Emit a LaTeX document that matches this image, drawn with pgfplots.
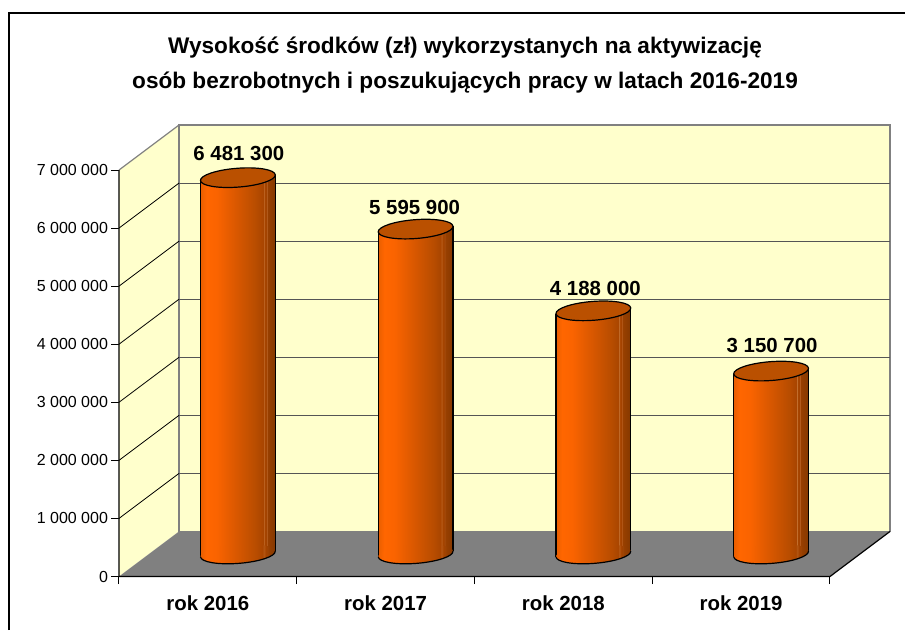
\documentclass[border=0pt]{standalone}
\usepackage{fontspec}
\setmainfont{Liberation Sans}
\usepackage{pgfplots}
\pgfplotsset{compat=1.18}

\definecolor{wall}{HTML}{FFFFCC}
\definecolor{edge}{HTML}{808080}
\definecolor{gridback}{HTML}{555555}
\definecolor{captop}{HTML}{BA5000}

% banded gradient of the cylinders, 25bp to 75bp is the width of the bar
\pgfdeclarehorizontalshading{cyl}{100bp}{
  rgb(0bp)=(.91,.37,0);
  rgb(25bp)=(.91,.37,0);
  rgb(29bp)=(1,.40,0);
  rgb(36bp)=(.98,.39,0);
  rgb(50bp)=(.84,.34,0);
  rgb(62bp)=(.72,.30,0);
  rgb(66.9bp)=(.66,.27,0);
  rgb(67.2bp)=(.78,.46,.21);
  rgb(67.8bp)=(.66,.27,0);
  rgb(69bp)=(.63,.26,0);
  rgb(69.3bp)=(.76,.42,.18);
  rgb(69.7bp)=(.60,.25,0);
  rgb(75bp)=(.52,.22,0);
  rgb(100bp)=(.52,.22,0)}

\pgfdeclareplotmark{cyltop}{%
  \pgfpathellipse{\pgfpointorigin}{\pgfqpoint{37.4pt}{2.85pt}}{\pgfqpoint{-0.7pt}{9.4pt}}%
  \pgfusepathqfillstroke}
\pgfdeclareplotmark{cylbase}{%
  \begin{pgfscope}%
    \pgfpathellipse{\pgfpointorigin}{\pgfqpoint{37.4pt}{2.85pt}}{\pgfqpoint{-0.7pt}{9.4pt}}%
    \pgfshadepath{cyl}{0}%
    \pgfusepath{discard}%
  \end{pgfscope}%
  % only the front half of the rim shows
  \pgftransformrotate{4.35}%
  \pgfpathmoveto{\pgfqpoint{-37.5pt}{0pt}}%
  \pgfpatharc{180}{360}{37.5pt and 9.4pt}%
  \pgfusepathqstroke}

% #1 category position, #2 value, #3 and #4 shift of the value label
\newcommand{\cylinder}[4]{
  \addplot[only marks, mark=cylbase, line width=1.2pt, xshift=30pt, yshift=22.5pt,
    forget plot] coordinates {(#1,0)};
  \addplot[ybar, bar width=74.8pt, bar shift=0pt, draw=none, shade, shading=cyl,
    yshift={22.5pt-0.076*(88.875+177.75*#1)*1pt}, xshift=30pt, yslant=0.076,
    forget plot] coordinates {(#1,#2)};
  \addplot[ycomb, no markers, line width=1.2pt, black, xshift=-7.4pt, yshift=19.65pt,
    forget plot] coordinates {(#1,#2)};
  \addplot[ycomb, no markers, line width=1.2pt, black, xshift=67.4pt, yshift=25.35pt,
    forget plot] coordinates {(#1,#2)};
  \addplot[only marks, mark=cyltop, line width=1.2pt, draw=black, fill=captop,
    xshift=30pt, yshift=22.5pt, forget plot,
    nodes near coords, nodes near coords align={center},
    every node near coord/.append style={black, yshift=#4, xshift=#3,
      font=\fontsize{20.4}{24}\selectfont\bfseries,
      /pgf/number format/.cd, fixed, precision=0, 1000 sep={\ }, assume math mode=true}]
    coordinates {(#1,#2)};
}

\begin{document}
\begin{tikzpicture}
\useasboundingbox (-119pt,-53.5pt) rectangle (786pt,576.5pt);
\begin{axis}[
    scale only axis,
    width=771pt,
    height=451.5pt,
    xmin=-0.5, xmax=3.8376,
    ymin=0, ymax=7776000,
    clip=false,
    unbounded coords=jump,
    axis lines=left,
    axis line style={draw=none},
    tick align=outside,
    major tick length=7.5pt,
    tick style={black, line width=1pt},
    xtick={-0.5,0.5,1.5,2.5,3.5},
    x tick label as interval,
    xticklabels={rok 2016,rok 2017,rok 2018,rok 2019},
    xticklabel style={font=\fontsize{20.4}{24}\selectfont\bfseries, yshift=-8pt},
    ytick={0,1000000,2000000,3000000,4000000,5000000,6000000,7000000},
    scaled y ticks=false,
    yticklabel style={font=\fontsize{16}{19}\selectfont,
      /pgf/number format/.cd, fixed, precision=0, 1000 sep={\ }, assume math mode=true},
    title={Wysokość środków (zł) wykorzystanych na aktywizację\\osób bezrobotnych i poszukujących pracy w latach 2016-2019},
    title style={at={(0.4488,1.119)}, anchor=center, align=center,
      font=\fontsize{22.6}{35}\selectfont\bfseries},
]
% walls and floor
\addplot[fill=wall, draw=none, forget plot] coordinates {(-0.5,0) (-0.1624,776000) (-0.1624,7776000) (-0.5,7000000)} -- cycle;
\addplot[fill=wall, draw=edge, line width=1.3pt, forget plot] coordinates {(-0.1624,776000) (3.8376,776000) (3.8376,7776000) (-0.1624,7776000)} -- cycle;
\addplot[fill=edge, draw=none, forget plot] coordinates {(-0.5,0) (3.5,0) (3.8376,776000) (-0.1624,776000)} -- cycle;
% gridlines, side wall then back wall
\addplot[black, line width=0.8pt, forget plot] coordinates {
  (-0.5,1000000) (-0.1624,1776000) (nan,nan)
  (-0.5,2000000) (-0.1624,2776000) (nan,nan)
  (-0.5,3000000) (-0.1624,3776000) (nan,nan)
  (-0.5,4000000) (-0.1624,4776000) (nan,nan)
  (-0.5,5000000) (-0.1624,5776000) (nan,nan)
  (-0.5,6000000) (-0.1624,6776000)};
\addplot[gridback, line width=1pt, forget plot] coordinates {
  (-0.1624,1776000) (3.8376,1776000) (nan,nan)
  (-0.1624,2776000) (3.8376,2776000) (nan,nan)
  (-0.1624,3776000) (3.8376,3776000) (nan,nan)
  (-0.1624,4776000) (3.8376,4776000) (nan,nan)
  (-0.1624,5776000) (3.8376,5776000) (nan,nan)
  (-0.1624,6776000) (3.8376,6776000)};
\addplot[edge, line width=1.2pt, forget plot] coordinates {(-0.5,7000000) (-0.1624,7776000)};
\addplot[black, line width=1.2pt, forget plot] coordinates {(-0.5,7000000) (-0.5,0) (3.5,0) (3.8376,776000)};
% cylinders
\cylinder{0}{6481300}{1pt}{24pt}
\cylinder{1}{5595900}{-1pt}{22pt}
\cylinder{2}{4188000}{2pt}{22pt}
\cylinder{3}{3150700}{1pt}{26pt}
\end{axis}
% frame of the chart, open to the right and bottom
\draw[black, line width=1.2pt] (-110pt,-53.5pt) -- (-110pt,563.5pt) -- (786pt,563.5pt);
\end{tikzpicture}
\end{document}
